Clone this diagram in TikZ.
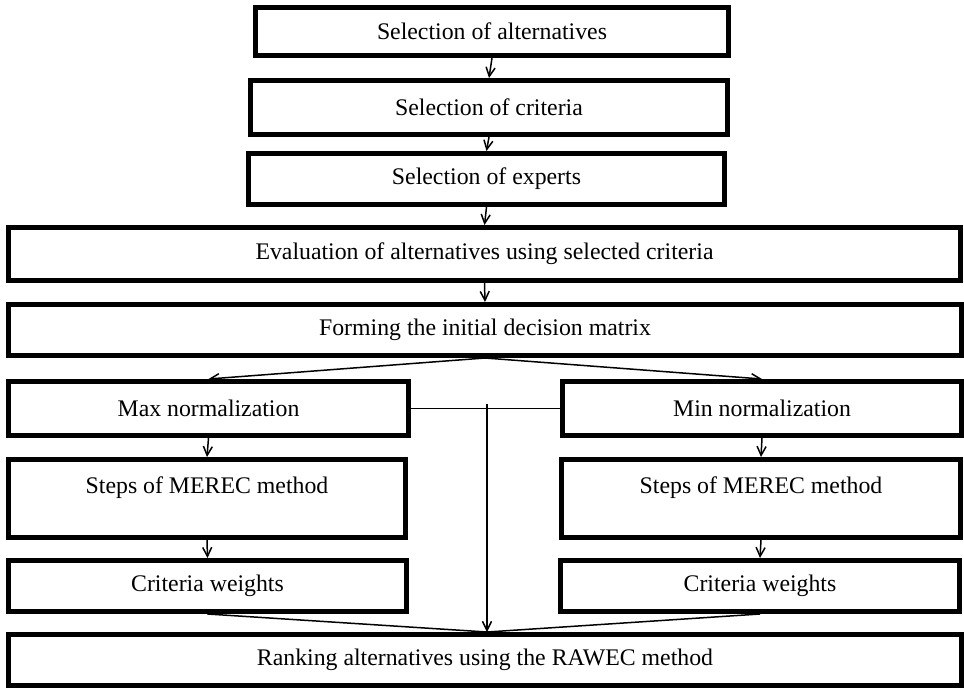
\documentclass[tikz,border=0pt]{standalone}
\usepackage{fontspec}
\setmainfont{Liberation Serif}
\usetikzlibrary{arrows.meta}
\begin{document}
\begin{tikzpicture}[x=1pt,y=-1pt,
  box/.style={draw=black, line width=5pt, fill=white, rectangle, inner sep=0pt,
    font=\fontsize{23.8}{27}\selectfont, align=center},
  conn/.style={line width=1.5pt},
  arr/.style={conn, -{Straight Barb[length=9pt,width=9pt,line width=1.5pt]}}]
\useasboundingbox (0,0) rectangle (964,689);
\fill[white] (0,0) rectangle (964,689);
% top chain
\node[box, minimum width=473pt, minimum height=48pt] (alt) at (492,31.5) {Selection of alternatives};
\node[box, minimum width=477pt, minimum height=54pt] (crit) at (489,107.5) {Selection of criteria};
\node[box, minimum width=476pt, minimum height=51pt] (exp) at (486.5,179) {Selection of experts};
\node[box, minimum width=952pt, minimum height=53pt] (eval) at (484.5,254) {Evaluation of alternatives using selected criteria};
\node[box, minimum width=953pt, minimum height=51pt] (form) at (485,330) {Forming the initial decision matrix};
% branches
\node[box, minimum width=400pt, minimum height=54pt] (maxn) at (208.5,408.5) {Max normalization};
\node[box, minimum width=399pt, minimum height=54pt] (minn) at (762,408.5) {Min normalization};
\node[box, minimum width=397pt, minimum height=78pt] (stepsL) at (207,498.5) {Steps of MEREC method\\\mbox{}};
\node[box, minimum width=399pt, minimum height=78pt] (stepsR) at (761,498.5) {Steps of MEREC method\\\mbox{}};
\node[box, minimum width=398pt, minimum height=51pt] (cwL) at (207.5,586) {Criteria weights};
\node[box, minimum width=399pt, minimum height=51pt] (cwR) at (760,586) {Criteria weights};
\node[box, minimum width=953pt, minimum height=51pt] (rank) at (485,660) {Ranking alternatives using the RAWEC method};
% connectors
\draw[arr] (alt.south) -- (crit.north);
\draw[arr] (crit.south) -- (exp.north);
\draw[arr] (exp.south) -- (eval.north);
\draw[arr] (eval.south) -- (form.north);
\draw[arr] (form.south) -- (maxn.north);
\draw[arr] (form.south) -- (minn.north);
\draw[conn] (maxn.east) -- (minn.west);
\coordinate (mid) at (487,404);
\coordinate (join) at (487,632);
\draw[arr] (mid) -- (join);
\draw[arr] (maxn.south) -- (stepsL.north);
\draw[arr] (minn.south) -- (stepsR.north);
\draw[arr] (stepsL.south) -- (cwL.north);
\draw[arr] (stepsR.south) -- (cwR.north);
\draw[conn] (cwL.south) -- (join);
\draw[conn] (cwR.south) -- (join);
\end{tikzpicture}
\end{document}
